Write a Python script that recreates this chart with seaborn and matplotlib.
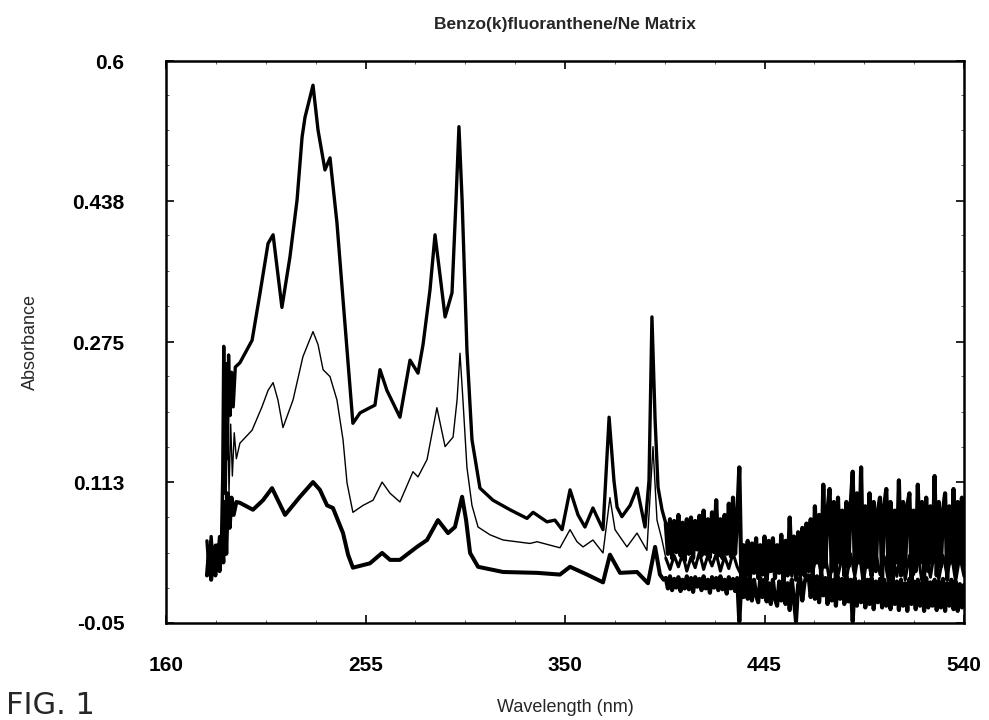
import numpy as np
import pandas as pd
import matplotlib
matplotlib.use("Agg")
import matplotlib.pyplot as plt
from matplotlib.ticker import AutoMinorLocator
import seaborn as sns

# ---------------- data ----------------
x_ticks = [160, 255, 350, 445, 540]
y_ticks = [-0.05, 0.113, 0.275, 0.438, 0.6]
y_tick_labels = ["-0.05", "0.113", "0.275", "0.438", "0.6"]

# smooth part of the spectra (nm, absorbance)
top_wl = [179.5, 180.5, 181.5, 182.5, 183.5, 184.5, 185.5, 186.3, 187.0, 187.5, 188.0, 188.6,
          189.2, 189.8, 190.5, 191.2, 192.0, 193.0, 195.2, 201.0, 204.8, 208.6, 211.0, 215.2,
          219.0, 222.4, 224.8, 226.2, 230.0, 232.4, 235.7, 238.1, 241.4, 244.3, 246.2, 249.0,
          252.4, 257.1, 259.5, 261.9, 265.2, 271.4, 276.2, 280.0, 282.4, 285.7, 288.1, 290.5,
          292.9, 296.2, 298.1, 299.5, 301.0, 303.3, 305.7, 309.5, 315.7, 323.8, 331.9, 334.8,
          341.4, 345.2, 348.6, 352.4, 356.2, 359.5, 363.3, 368.1, 371.0, 373.3, 374.8, 377.1,
          381.0, 384.3, 388.1, 390.0, 391.4, 392.9, 394.3, 396.2]
top_abs = [0.045, 0.012, 0.050, 0.015, 0.040, 0.020, 0.050, 0.030, 0.120, 0.270, 0.100, 0.250,
           0.140, 0.260, 0.190, 0.240, 0.200, 0.246, 0.251, 0.277, 0.332, 0.389, 0.399, 0.315,
           0.373, 0.439, 0.512, 0.535, 0.572, 0.520, 0.474, 0.488, 0.413, 0.324, 0.266, 0.181,
           0.193, 0.199, 0.202, 0.243, 0.219, 0.188, 0.254, 0.239, 0.272, 0.335, 0.399, 0.352,
           0.304, 0.332, 0.439, 0.524, 0.439, 0.266, 0.162, 0.106, 0.092, 0.081, 0.071, 0.078,
           0.067, 0.069, 0.058, 0.104, 0.075, 0.061, 0.083, 0.058, 0.188, 0.115, 0.084, 0.073,
           0.086, 0.106, 0.061, 0.115, 0.304, 0.185, 0.107, 0.081]

mid_wl = [179.5, 181.0, 182.5, 184.0, 185.5, 187.0, 187.8, 188.5, 189.3, 190.0, 190.8, 191.6,
          192.5, 193.5, 195.2, 201.0, 205.7, 208.6, 211.0, 213.3, 215.7, 220.5, 225.2, 230.0,
          232.4, 234.8, 238.1, 241.4, 244.3, 246.2, 249.0, 253.8, 258.6, 262.9, 266.7, 271.4,
          277.6, 280.0, 284.3, 289.0, 292.9, 296.7, 298.6, 300.0, 301.4, 303.3, 305.7, 308.6,
          314.3, 320.5, 333.3, 336.7, 347.6, 352.4, 355.7, 358.6, 363.3, 368.1, 371.4, 373.8,
          379.5, 384.3, 389.0, 391.9, 393.8, 396.2]
mid_abs = [0.020, 0.045, 0.010, 0.040, 0.015, 0.050, 0.200, 0.060, 0.220, 0.100, 0.180, 0.120,
           0.170, 0.140, 0.158, 0.173, 0.200, 0.219, 0.228, 0.208, 0.176, 0.208, 0.258, 0.287,
           0.272, 0.243, 0.235, 0.208, 0.162, 0.112, 0.078, 0.086, 0.092, 0.113, 0.100, 0.090,
           0.125, 0.119, 0.139, 0.199, 0.154, 0.165, 0.208, 0.262, 0.208, 0.130, 0.086, 0.061,
           0.052, 0.046, 0.042, 0.044, 0.037, 0.058, 0.044, 0.038, 0.046, 0.031, 0.095, 0.058,
           0.038, 0.054, 0.034, 0.154, 0.069, 0.046]

bot_wl = [179.5, 180.5, 181.5, 182.5, 183.5, 184.5, 185.5, 186.5, 187.3, 188.0, 188.7, 189.5,
          190.3, 191.2, 192.2, 193.5, 195.2, 201.4, 206.2, 210.5, 216.7, 223.8, 230.0, 233.3,
          236.7, 239.5, 244.3, 246.7, 249.0, 257.1, 262.9, 266.7, 271.4, 279.5, 284.3, 289.5,
          294.3, 297.6, 301.0, 302.9, 304.8, 308.6, 320.5, 336.7, 347.6, 352.4, 360.5, 368.1,
          371.4, 376.2, 384.3, 389.5, 392.9, 395.2, 397.0]
bot_abs = [0.005, 0.035, 0.000, 0.030, 0.005, 0.040, 0.010, 0.050, 0.020, 0.090, 0.030, 0.100,
           0.060, 0.095, 0.075, 0.090, 0.089, 0.081, 0.092, 0.106, 0.075, 0.096, 0.113, 0.104,
           0.086, 0.083, 0.054, 0.029, 0.014, 0.019, 0.031, 0.023, 0.023, 0.038, 0.046, 0.069,
           0.054, 0.061, 0.096, 0.069, 0.031, 0.015, 0.009, 0.008, 0.006, 0.015, 0.006, -0.003,
           0.029, 0.008, 0.009, -0.004, 0.038, 0.006, 0.000]

top_noise = [0.065, 0.030, 0.070, 0.025, 0.068, 0.032, 0.075, 0.028, 0.066, 0.022, 0.070, 0.030,
             0.072, 0.025, 0.068, 0.035, 0.074, 0.028, 0.080, 0.030, 0.070, 0.026, 0.078, 0.032,
             0.092, 0.028, 0.070, 0.025, 0.075, 0.030, 0.088, 0.027, 0.095, 0.030, 0.072,
             0.130, 0.000, 0.040, 0.005, 0.045, 0.000, 0.042, 0.008, 0.048, 0.002, 0.040, 0.006,
             0.050, 0.000, 0.045, 0.010, 0.048, 0.002, 0.040, 0.008, 0.052, 0.000, 0.045, 0.005,
             0.072, 0.010, 0.050, 0.000, 0.055, 0.008, 0.060, 0.005, 0.065,
             0.010, 0.070, 0.005, 0.085, 0.020, 0.075, 0.000, 0.110, 0.015, 0.080,
             0.105, 0.010, 0.090, 0.000, 0.095, 0.020, 0.080, 0.005, 0.090, 0.015,
             0.085, 0.125, 0.010, 0.100, 0.020, 0.130, 0.000, 0.085, 0.015, 0.100,
             0.005, 0.090, 0.010, 0.080, 0.095, 0.000, 0.085, 0.105, 0.010, 0.090,
             0.000, 0.080, 0.020, 0.115, 0.005, 0.090, 0.015, 0.085, 0.100, 0.000,
             0.080, 0.010, 0.110, 0.020, 0.090, 0.000, 0.095, 0.010, 0.085, 0.020,
             0.120, 0.005, 0.090, 0.015, 0.080, 0.100, 0.000, 0.085, 0.020, 0.105,
             0.010, 0.090, 0.025, 0.095, 0.015]
mid_noise = [0.025, 0.012, 0.028, 0.015, 0.030, 0.010, 0.026, 0.014, 0.032, 0.012, 0.028, 0.016,
             0.030, 0.010, 0.027, 0.013, 0.031, 0.015,
             0.005, 0.028, 0.000, 0.030, 0.004, 0.026, -0.002, 0.030, 0.006, 0.028, 0.000, 0.032,
             0.004, 0.027, 0.002, 0.030,
             0.025, 0.010, 0.030, 0.008, 0.028, -0.002, 0.032, 0.005, 0.026, 0.000, 0.030, 0.004,
             0.035, -0.004, 0.028, 0.002, 0.032, 0.006, 0.027, -0.002, 0.030, 0.004, 0.034, 0.000,
             0.028, 0.006, 0.031, -0.003, 0.029, 0.003, 0.033, 0.000, 0.028, 0.005, 0.030, -0.002,
             0.027, 0.004]
bot_noise = [0.002, -0.010, 0.004, -0.012, 0.001, -0.009, 0.003, -0.013, 0.000, -0.010, 0.004,
             -0.011, 0.002, -0.014, 0.003, -0.008, 0.001, -0.012, 0.004, -0.010, 0.000, -0.015,
             0.003, -0.009, 0.002, -0.012, 0.004, -0.011, 0.000, -0.016, 0.003, -0.010, 0.001,
             -0.013, 0.002,
             -0.048, 0.000, -0.020, 0.002, -0.022, -0.002, -0.024, 0.000, -0.018, -0.026, 0.002,
             -0.020, 0.000, -0.025, -0.004, -0.028, 0.000, -0.022, -0.030, -0.002, -0.024, 0.001,
             -0.028, -0.004, -0.035, 0.000, -0.022, -0.048, -0.006, 0.002, -0.024, -0.004, 0.005,
             0.005, -0.020, 0.008, -0.022, 0.004, -0.026, 0.006, -0.018, 0.002, -0.028, 0.004,
             -0.024, 0.000, -0.030, 0.003, -0.022, 0.001, -0.028, 0.004, -0.025, 0.000, -0.048,
             0.002, -0.030, -0.002, -0.026, 0.003, -0.032, 0.000, -0.028, 0.002, -0.034, -0.002,
             -0.026, 0.001, -0.032, 0.000, -0.030, -0.004, -0.034, 0.002, -0.028, -0.002, -0.035,
             0.000, -0.030, -0.004, -0.036, 0.001, -0.028, -0.002, -0.034, 0.000, -0.030, -0.004,
             -0.036, 0.002, -0.032, -0.003, -0.030, 0.000, -0.035, -0.002, -0.032, 0.001, -0.036,
             -0.004, -0.030, 0.000, -0.034, -0.002, -0.036, -0.005, -0.032, -0.006]

noise_start, noise_end = 398.0, 540.0


def smooth_df(wl, ab, noise):
    # smooth segment, joined to the first point of the noisy band
    return pd.DataFrame({"wl": list(wl) + [noise_start], "abs": list(ab) + [noise[0]]})


def noise_df(noise):
    nwl = np.linspace(noise_start, noise_end, len(noise))
    return pd.DataFrame({"wl": nwl, "abs": noise})


# ---------------- plot ----------------
sns.set_theme(style="ticks")
plt.rcParams["font.family"] = ["Liberation Sans", "DejaVu Sans"]

fig = plt.figure(figsize=(9.89, 7.2), dpi=100)
ax = fig.add_axes([166 / 989, 1 - 623 / 720, (964 - 166) / 989, (623 - 61) / 720])

curves = [
    (mid_wl, mid_abs, mid_noise, 1.0, 2.2),
    (top_wl, top_abs, top_noise, 2.4, 3.0),
    (bot_wl, bot_abs, bot_noise, 2.9, 3.0),
]
for wl, ab, noise, lw_s, lw_n in curves:
    sns.lineplot(data=smooth_df(wl, ab, noise), x="wl", y="abs", ax=ax, color="black",
                 linewidth=lw_s, estimator=None, sort=False)
    sns.lineplot(data=noise_df(noise), x="wl", y="abs", ax=ax, color="black",
                 linewidth=lw_n, estimator=None, sort=False)

ax.set_xlim(160, 540)
ax.set_ylim(-0.05, 0.6)
ax.set_xticks(x_ticks)
ax.set_xticklabels([str(t) for t in x_ticks])
ax.set_yticks(y_ticks)
ax.set_yticklabels(y_tick_labels)
ax.xaxis.set_minor_locator(AutoMinorLocator(4))
ax.yaxis.set_minor_locator(AutoMinorLocator(4))
ax.tick_params(axis="both", which="major", direction="in", length=6, width=1.2, top=True,
               right=True, labelsize=15, color="black", labelcolor="black")
ax.tick_params(axis="both", which="minor", direction="in", length=2.5, width=0.6, top=True,
               right=True, color="#444444")
ax.tick_params(axis="x", which="major", pad=24)
ax.tick_params(axis="y", which="major", pad=30)
for lab in ax.get_xticklabels() + ax.get_yticklabels():
    lab.set_fontweight("bold")
for sp in ax.spines.values():
    sp.set_linewidth(1.8)
    sp.set_color("black")

ax.set_xlabel("Wavelength (nm)", fontsize=13, labelpad=17)
ax.set_ylabel("Absorbance", fontsize=13, labelpad=24)
ax.set_title("Benzo(k)fluoranthene/Ne Matrix", fontsize=12.5, fontweight="bold", pad=23)

fig.text(0.006, 0.040, "FIG. 1", fontsize=22, va="top", ha="left",
         family=["DejaVu Sans"])

fig.savefig("out.png", dpi=100, facecolor="white")
